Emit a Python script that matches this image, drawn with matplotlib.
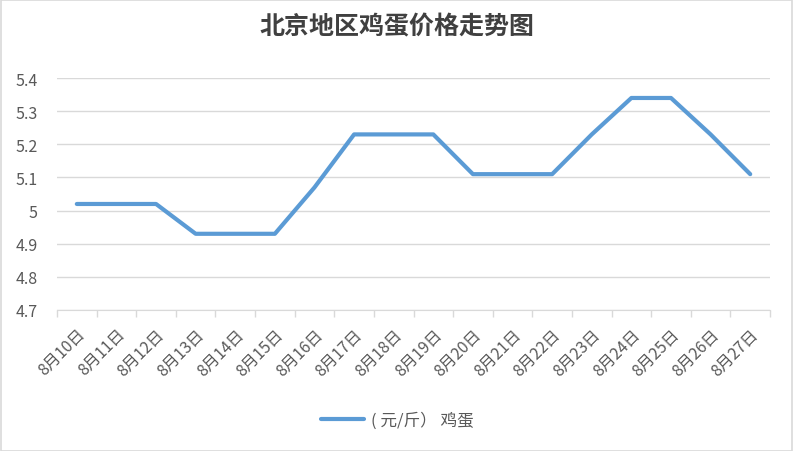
import matplotlib
matplotlib.use("Agg")
import matplotlib.pyplot as plt
import numpy as np
from matplotlib.patches import Rectangle

plt.rcParams["font.family"] = ["Noto Sans CJK SC", "DejaVu Sans"]

dates = ["8月10日", "8月11日", "8月12日", "8月13日", "8月14日", "8月15日",
         "8月16日", "8月17日", "8月18日", "8月19日", "8月20日", "8月21日",
         "8月22日", "8月23日", "8月24日", "8月25日", "8月26日", "8月27日"]
prices = [5.02, 5.02, 5.02, 4.93, 4.93, 4.93, 5.07, 5.23, 5.23, 5.23,
          5.11, 5.11, 5.11, 5.23, 5.34, 5.34, 5.23, 5.11]
y_ticks = [4.7, 4.8, 4.9, 5.0, 5.1, 5.2, 5.3, 5.4]
y_labels = ["4.7", "4.8", "4.9", "5", "5.1", "5.2", "5.3", "5.4"]

fig = plt.figure(figsize=(7.94, 4.52), dpi=100)
fig.patches.append(Rectangle((0.001, 0.001), 0.997, 0.996, transform=fig.transFigure,
                             fill=False, edgecolor="#d9d9d9", linewidth=1.2))
ax = fig.add_axes([0.0718, 0.312, 0.898, 0.513])

x = np.arange(len(dates))
ax.plot(x, prices, color="#5b9bd5", linewidth=3, solid_capstyle="round",
        solid_joinstyle="round", label="( 元/斤） 鸡蛋")

ax.set_xlim(-0.5, len(dates) - 0.5)
ax.set_ylim(4.7, 5.4)
ax.set_yticks(y_ticks)
ax.set_yticklabels(y_labels)
ax.yaxis.grid(True, color="#d9d9d9", linewidth=1)
ax.set_axisbelow(True)
ax.tick_params(axis="y", length=0, labelsize=11.5, colors="#595959", pad=14)

ax.set_xticks(x)
ax.set_xticklabels(dates, rotation=45, ha="right", rotation_mode="anchor")
ax.set_xticks(np.arange(len(dates) + 1) - 0.5, minor=True)
ax.tick_params(axis="x", which="major", length=0, labelsize=11.5, colors="#595959", pad=11)
ax.tick_params(axis="x", which="minor", length=5, color="#d9d9d9", width=1)

for side in ["top", "right", "left"]:
    ax.spines[side].set_visible(False)
ax.spines["bottom"].set_color("#d9d9d9")

fig.suptitle("北京地区鸡蛋价格走势图", y=0.965, fontsize=18, fontweight="bold",
             color="#404040")
fig.legend(loc="center", bbox_to_anchor=(0.5, 0.068), frameon=False,
           fontsize=12, labelcolor="#595959", handlelength=2.6, handletextpad=0.4)

fig.savefig("out.png", dpi=100)
